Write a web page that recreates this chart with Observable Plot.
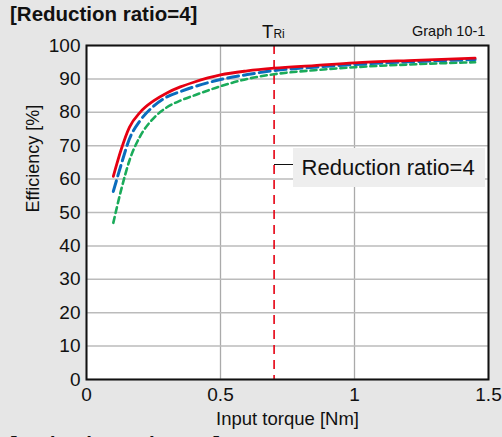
<!DOCTYPE html>
<html><head><meta charset="utf-8">
<script src="https://cdn.jsdelivr.net/npm/d3@7"></script>
<script src="https://cdn.jsdelivr.net/npm/@observablehq/plot@0.6"></script>
<style>
html,body{margin:0;padding:0;background:#e6e6e6;}
#wrap{position:relative;width:502px;height:437px;overflow:hidden;background:#e6e6e6;font-family:"Liberation Sans",Arial,sans-serif;}
#wrap svg{position:absolute;left:0;top:0;}
.abs{position:absolute;white-space:nowrap;color:#111;}
</style></head>
<body><div id="wrap"></div>
<script>
const torque = [0.1, 0.13, 0.16, 0.2, 0.25, 0.3, 0.35, 0.4, 0.5, 0.6, 0.7, 0.85, 1.0, 1.2, 1.45];
const effRed = [60.8, 69, 75.5, 80, 83.4, 85.8, 87.6, 89, 91.2, 92.4, 93.2, 94.0, 94.8, 95.5, 96.2];
const effBlue = [56.3, 64.5, 72, 77.5, 81.8, 84.6, 86.2, 87.6, 89.8, 91.3, 92.5, 93.5, 94.3, 95.1, 95.8];
const effGreen = [46.9, 57, 65.5, 72.8, 78.2, 81.5, 83.5, 85, 87.8, 90, 91.4, 92.6, 93.5, 94.3, 95.0];
const ratedTorque = 0.7;
const xTicks = [0, 0.5, 1, 1.5];
const yTicks = [0, 10, 20, 30, 40, 50, 60, 70, 80, 90, 100];
const title = "[Reduction ratio=4]";
const graphLabel = "Graph 10-1";
const legendLabel = "Reduction ratio=4";
const nextTitle = "[Reduction ratio=5, 8]";

const red = torque.map((t, i) => ({t, e: effRed[i]}));
const blue = torque.map((t, i) => ({t, e: effBlue[i]}));
const green = torque.map((t, i) => ({t, e: effGreen[i]}));

const W = 502, H = 437;
const font = '"Liberation Sans",Arial,sans-serif';
const plot = Plot.plot({
  width: W, height: H,
  marginLeft: 86, marginRight: 14, marginTop: 45, marginBottom: 58,
  style: {background: "transparent", fontFamily: font, color: "#111", overflow: "visible"},
  x: {domain: [0, 1.5]},
  y: {domain: [0, 100]},
  marks: [
    Plot.frame({fill: "white"}),
    Plot.gridX(xTicks, {stroke: "#aaaaaa", strokeOpacity: 1, strokeWidth: 1.3}),
    Plot.gridY(yTicks, {stroke: "#bbbbbb", strokeOpacity: 1, strokeWidth: 1.5}),
    Plot.axisX(xTicks, {tickSize: 0, tickPadding: 8, fontSize: 19, label: null, tickFormat: d => String(d)}),
    Plot.axisY(yTicks, {tickSize: 0, tickPadding: 6, fontSize: 19, label: null}),
    Plot.text(["Input torque [Nm]"], {frameAnchor: "bottom", dy: 45, fontSize: 18.5, fill: "#111"}),
    Plot.text(["Efficiency [%]"], {frameAnchor: "left", dx: -53, rotate: -90, fontSize: 18, fill: "#111"}),
    Plot.ruleX([ratedTorque], {stroke: "#e60012", strokeWidth: 1.6, strokeDasharray: "9,6"}),
    Plot.line(green, {x: "t", y: "e", stroke: "#1aab5a", strokeWidth: 2.6, strokeDasharray: "6,4", curve: "monotone-x"}),
    Plot.line(blue, {x: "t", y: "e", stroke: "#0a6cbd", strokeWidth: 3, strokeDasharray: "11,5", curve: "monotone-x"}),
    Plot.line(red, {x: "t", y: "e", stroke: "#e60012", strokeWidth: 2.8, curve: "monotone-x"}),
    Plot.frame({stroke: "#111", strokeWidth: 2})
  ]
});
const wrap = document.getElementById("wrap");
wrap.appendChild(plot);
const xs = plot.scale("x");
const px = xs.apply(ratedTorque);

function addDiv(html, css) {
  const d = document.createElement("div");
  d.className = "abs";
  d.innerHTML = html;
  Object.assign(d.style, css);
  wrap.appendChild(d);
  return d;
}
addDiv(title, {left: "10px", top: "2px", fontSize: "20.5px", fontWeight: "bold"});
addDiv(nextTitle, {left: "10px", top: "432px", fontSize: "20.5px", fontWeight: "bold"});
addDiv(graphLabel, {left: "412px", top: "23px", fontSize: "14.5px"});
const tr = addDiv('T<span style="font-size:12px">Ri</span>', {top: "21px", fontSize: "18.5px"});
tr.style.left = (px - tr.offsetWidth / 2) + "px";
// legend box with connector
const lx = px + 19;
addDiv(legendLabel, {left: lx + "px", top: "148px", width: (485 - lx) + "px", height: "39px", lineHeight: "39px",
  background: "#eeeeee", fontSize: "22px", paddingLeft: "9px", boxSizing: "border-box"});
addDiv("", {left: px + "px", top: "164px", width: "19px", height: "0", borderTop: "1.5px solid #111"});
</script></body></html>
